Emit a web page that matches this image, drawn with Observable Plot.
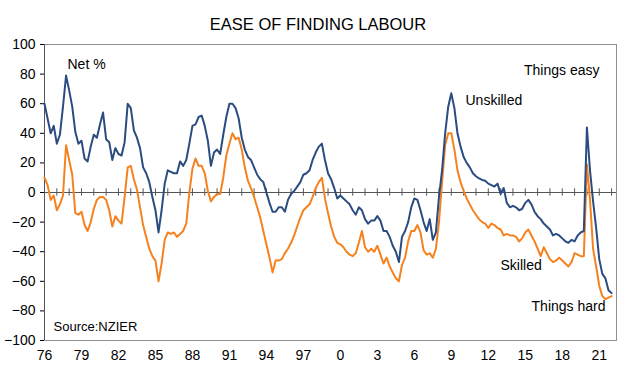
<!DOCTYPE html>
<html><head><meta charset="utf-8">
<script src="https://cdn.jsdelivr.net/npm/d3@7"></script>
<script src="https://cdn.jsdelivr.net/npm/@observablehq/plot@0.6"></script>
<style>body{margin:0;background:#fff}</style>
</head><body><div id="chart"></div>
<script>
const startYear = 1976; // first quarter: 1976 Q1, quarterly data
const unskilled = [
 60,50,40,45,33,39,58,79,69,58,41,33,35,23,21,31,39,37,46,54,
 36,34,22,30,26,25,34,60,57,42,37,30,17,13,7,-3,-12,-27,-12,6,
 15,14,13,13,21,18,22,33,45,46,51,52,45,35,18,27,29,26,39,51,
 60,60,57,50,37,29,24,22,17,12,9,7,0,-7,-13,-13,-10,-10,-13,-5,
 -1,1,4,7,12,13,15,22,27,31,33,22,13,9,3,-4,-2,-4,-6,-8,
 -12,-15,-10,-12,-18,-21,-19,-19,-16,-19,-26,-26,-30,-36,-40,-47,-30,-26,-20,-10,
 -4,-5,-12,-20,-26,-18,-32,-27,-3,15,40,58,67,57,40,31,24,20,17,13,
 11,9.5,8.5,8,6,5,4,6,-1,3,-7,-10,-9,-10,-12,-11,-7,-5,-8,-13,
 -16,-18,-21,-23,-25,-29,-28,-29,-31,-33,-34,-32,-33,-29,-27,-26,44,15,-6,-24,
 -45,-55,-58,-66,-68
];
const skilled = [
 10,5,-5,-2,-12,-8,-2,32,22,12,-14,-15,-13,-22,-26,-20,-11,-5,-3,-3,
 -5,-12,-23,-16,-19,-21,-3,17,18,9,2,-10,-22,-30,-38,-43,-46,-60,-48,-32,
 -27,-28,-27,-30,-28,-26,-21,0,16,23,18,18,13,1,-6,-3,-1,-1,10,25,
 33,40,36,37,29,17,8,3,-3,-10,-17,-26,-35,-44,-54,-46,-46,-45,-41,-38,
 -34,-29,-23,-17,-12,-10,-8,-3,3,7,10,-4,-14,-23,-30,-34,-35,-37,-40,-42,
 -43,-41,-34,-26,-37,-40,-38,-40,-36,-42,-48,-44,-50,-54,-58,-60,-49,-44,-33,-26,
 -26,-22,-27,-39,-42,-41,-44,-38,-20,7,32,40,40,29,15,7,1,-4,-8,-12,
 -15,-18,-20,-21,-24,-21,-22,-24,-25,-29,-28,-29,-29,-30,-33,-31,-27,-25,-29,-33,
 -38,-43,-37,-41,-45,-47,-46,-44,-46,-48,-50,-47,-41,-42,-43,-43,19,-5,-38,-50,
 -63,-70,-72,-71,-70
];
const xLabelYears = d3.range(1976, 2022, 3);
const yearTicks = d3.range(1976, 2023);
const yTicks = d3.range(-100, 101, 20);

const data = unskilled.map((u, i) => ({date: startYear + i / 4, unskilled: u, skilled: skilled[i]}));

const font = "'Liberation Sans', Arial, sans-serif";
const plot = Plot.plot({
  width: 635, height: 387,
  marginLeft: 44, marginRight: 19, marginTop: 44, marginBottom: 47,
  style: {fontFamily: font, fontSize: "14px", color: "#000", background: "#fff"},
  x: {domain: [1976, 2022.4]},
  y: {domain: [-100, 100]},
  marks: [
    Plot.frame({stroke: "#8f8f8f"}),
    Plot.ruleY([0], {stroke: "#555"}),
    Plot.ruleX(yearTicks, {x: d => d, y1: -2.5, y2: 2.5, stroke: "#555"}),
    Plot.ruleX([yearTicks[0]], {stroke: "#555"}),
    Plot.axisY({ticks: yTicks, tickSize: 4, tickPadding: 5, label: null, fontSize: 14}),
    Plot.axisX({ticks: xLabelYears, tickSize: 0, tickPadding: 10, tickFormat: d => String(d % 100), label: null, fontSize: 14}),
    Plot.lineY(data, {x: "date", y: "skilled", stroke: "#F5821F", strokeWidth: 2}),
    Plot.lineY(data, {x: "date", y: "unskilled", stroke: "#2A4C80", strokeWidth: 2}),
    Plot.text(["EASE OF FINDING LABOUR"], {frameAnchor: "top", dx: -12.5, dy: -26, fontSize: 16.5}),
    Plot.text(["Net %"], {frameAnchor: "top-left", textAnchor: "start", dx: 23, dy: 15, fontSize: 14}),
    Plot.text(["Things easy"], {frameAnchor: "top-right", textAnchor: "end", dx: -17, dy: 21, fontSize: 14}),
    Plot.text(["Things hard"], {frameAnchor: "bottom-right", textAnchor: "end", dx: -11, dy: -30, fontSize: 14}),
    Plot.text(["Unskilled"], {frameAnchor: "top-left", textAnchor: "start", dx: 421, dy: 51, fontSize: 14}),
    Plot.text(["Skilled"], {frameAnchor: "top-left", textAnchor: "start", dx: 456, dy: 216, fontSize: 14}),
    Plot.text(["Source:NZIER"], {frameAnchor: "bottom-left", textAnchor: "start", dx: 9, dy: -10, fontSize: 13})
  ]
});
document.getElementById("chart").appendChild(plot);
</script>
</body></html>
